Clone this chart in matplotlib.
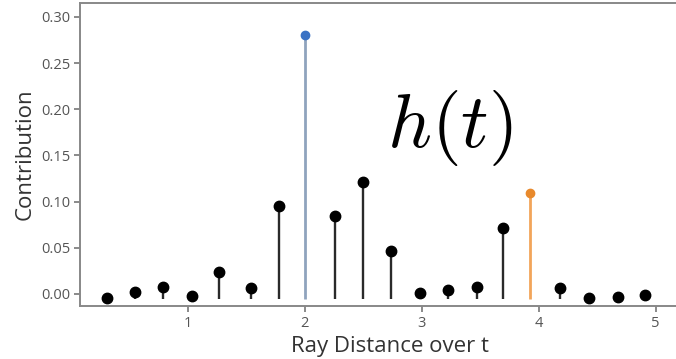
import numpy as np
import matplotlib
matplotlib.use('Agg')
from matplotlib import pyplot as plt

# sample positions along the ray
ray_t = [0.31, 0.55, 0.79, 1.04, 1.27, 1.54, 1.78, 2.00, 2.26, 2.50,
         2.74, 2.99, 3.23, 3.47, 3.70, 3.93, 4.18, 4.43, 4.68, 4.91]
contribution = [-0.004, 0.002, 0.008, -0.002, 0.024, 0.007, 0.095, 0.280, 0.084, 0.121,
                0.046, 0.001, 0.004, 0.008, 0.071, 0.109, 0.006, -0.004, -0.003, -0.001]
# highlighted samples
blue_idx = 7
orange_idx = 15

x_ticks = [1, 2, 3, 4, 5]
y_ticks = [0.00, 0.05, 0.10, 0.15, 0.20, 0.25, 0.30]

plt.rcParams['font.family'] = ['Open Sans', 'DejaVu Sans']
plt.rcParams['mathtext.fontset'] = 'cm'

fig = plt.figure(figsize=(6.76, 3.59), dpi=100)
ax = fig.add_axes([80/676, 53/359, 620/676, 303/359])

base = -0.005
for i, (t, c) in enumerate(zip(ray_t, contribution)):
    if i == blue_idx:
        ax.vlines(t, base, c, color='#8fa3bd', lw=2, zorder=2)
        ax.plot(t, c, 'o', color='#3a72c4', ms=6, zorder=3)
    elif i == orange_idx:
        ax.vlines(t, base, c, color='#f2a55a', lw=2, zorder=2)
        ax.plot(t, c, 'o', color='#e8892c', ms=6, zorder=3)
    else:
        if c > base:
            ax.vlines(t, base, c, color='#2a2a2a', lw=1.7, zorder=2)
        ax.plot(t, c, 'o', color='black', ms=7.5, zorder=3)

ax.set_xlim(0.08, 5.38)
ax.set_ylim(-0.013, 0.315)
ax.set_xticks(x_ticks)
ax.set_yticks(y_ticks)
ax.set_yticklabels(['%.2f' % v for v in y_ticks])
ax.tick_params(colors='#777777', labelsize=10.5, length=4, width=1.2, pad=3,
               labelcolor='#555555')
ax.spines['right'].set_visible(False)
for s in ax.spines.values():
    s.set_color('#888888')
    s.set_linewidth(1.4)

ax.set_xlabel('Ray Distance over t', fontsize=16, color='#333333', labelpad=4)
ax.set_ylabel('Contribution', fontsize=16, color='#333333', labelpad=4)

ax.text(3.24, 0.18, r'$h(t)$', fontsize=55, ha='center', va='center', color='black')

fig.savefig('out.png', dpi=100)
